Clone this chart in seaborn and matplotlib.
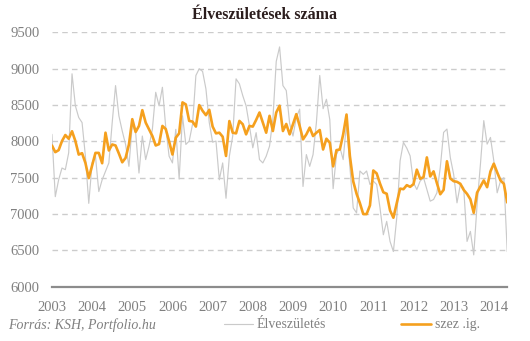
import matplotlib
matplotlib.use("Agg")
import matplotlib.pyplot as plt
import seaborn as sns
import pandas as pd
import numpy as np

# Monthly live births in Hungary, Jan 2003 - May 2014
births = [
    8097, 7240, 7472, 7634, 7611, 7843, 8930, 8490, 8329, 8259, 7796, 7148,
    7704, 7796, 7310, 7472, 7588, 7704, 8259, 8768, 8352, 8143, 7958, 7657,
    8236, 8120, 7565, 8074, 7750, 7935, 8166, 8676, 8490, 8745, 8190, 7796,
    7704, 8166, 7482, 8352, 7958, 8005, 8236, 8907, 9000, 8963, 8722, 8259,
    7990, 8005, 7472, 7704, 7218, 7796, 8074, 8861, 8792, 8630, 8490, 8213,
    7912, 8120, 7750, 7704, 7796, 7935, 8306, 9100, 9300, 8768, 8700, 8250,
    8074, 8329, 8444, 7380, 7819, 7657, 7819, 8259, 8907, 8450, 8580, 8300,
    7350, 7820, 7920, 7750, 8250, 7650, 7085, 7016, 7593, 7547, 7593, 7408,
    7454, 7408, 7085, 6716, 6900, 6624, 6485, 6947, 7732, 7986, 7907, 7801,
    7432, 7339, 7455, 7501, 7339, 7178, 7201, 7293, 7639, 8124, 8170, 7778,
    7547, 7155, 7408, 7362, 6624, 6762, 6439, 7131, 7686, 8286, 7963, 8055,
    7732, 7293, 7455, 7501, 6485,
]

# Seasonally adjusted series
seas_adj = [
    7944, 7852, 7880, 8005, 8088, 8037, 8140, 8005, 7819, 7838, 7704, 7495,
    7666, 7842, 7842, 7700, 8120, 7875, 7958, 7944, 7833, 7713, 7773, 7958,
    8306, 8130, 8213, 8430, 8259, 8166, 8074, 7944, 7963, 8213, 8170, 8000,
    7820, 8051, 8111, 8537, 8509, 8282, 8273, 8204, 8500, 8421, 8361, 8435,
    8204, 8111, 8120, 8065, 7800, 8280, 8120, 8111, 8282, 8236, 8097, 8213,
    8204, 8296, 8398, 8259, 8120, 8352, 8143, 8398, 8491, 8143, 8240, 8097,
    8236, 8375, 8213, 8028, 8097, 8190, 8074, 8120, 8157, 7889, 8037, 7982,
    7657, 7880, 7889, 8097, 8370, 7800, 7450, 7280, 7150, 7000, 7000, 7120,
    7600, 7560, 7420, 7300, 7280, 7050, 6950, 7150, 7350, 7343, 7398, 7375,
    7412, 7611, 7486, 7509, 7780, 7518, 7588, 7426, 7273, 7333, 7727, 7490,
    7453, 7444, 7417, 7333, 7278, 7204, 7018, 7296, 7380, 7463, 7370, 7588,
    7694, 7574, 7463, 7417, 7160,
]

years = ["2003", "2004", "2005", "2006", "2007", "2008", "2009",
         "2010", "2011", "2012", "2013", "2014"]
y_ticks = [6000, 6500, 7000, 7500, 8000, 8500, 9000, 9500]

df = pd.DataFrame({
    "month": np.arange(len(births)),
    "Élveszületés": births,
    "szez .ig.": seas_adj,
})

sns.set_style("white")
plt.rcParams["font.family"] = ["Liberation Serif", "DejaVu Serif"]

TXT = "#808080"
GRAY_LINE = "#cacaca"
ORANGE = "#f5a01e"

fig = plt.figure(figsize=(5.30, 3.41), dpi=100)
ax = fig.add_axes([0.098, 0.159, 0.859, 0.746])

sns.lineplot(data=df, x="month", y="Élveszületés", ax=ax,
             color=GRAY_LINE, linewidth=0.85, label="Élveszületés")
sns.lineplot(data=df, x="month", y="szez .ig.", ax=ax,
             color=ORANGE, linewidth=1.9, label="szez .ig.")

ax.set_xlim(0, len(births) - 1)
ax.set_ylim(6000, 9500)
ax.set_xlabel("")
ax.set_ylabel("")

ax.set_yticks(y_ticks)
ax.set_yticklabels([str(v) for v in y_ticks])
ax.set_xticks(np.arange(len(years)) * 12)
ax.set_xticklabels(years)
ax.tick_params(axis="both", length=0, colors=TXT, labelsize=10.5)
ax.tick_params(axis="x", pad=10)
ax.tick_params(axis="y", pad=9)

for v in y_ticks[1:]:
    ax.axhline(v, color="#cccccc", linewidth=1.0, linestyle=(0, (4, 3)), zorder=0)

for side in ["top", "right", "left"]:
    ax.spines[side].set_visible(False)
ax.spines["bottom"].set_color("#8c8c8c")
ax.spines["bottom"].set_linewidth(1.6)

fig.text(0.5, 0.955, "Élveszületések száma", ha="center", va="center",
         fontsize=11.5, fontweight="bold", color="#2b1d1d")
fig.text(0.015, 0.047, "Forrás: KSH, Portfolio.hu", ha="left", va="center",
         fontsize=10, style="italic", color=TXT)

handles, labels = ax.get_legend_handles_labels()
ax.get_legend().remove()
fig.legend(handles, labels, loc="center left", bbox_to_anchor=(0.422, 0.047),
           ncol=2, frameon=False, fontsize=10, labelcolor=TXT,
           handlelength=2.1, handletextpad=0.3, columnspacing=5.4,
           borderpad=0, borderaxespad=0)

fig.savefig("out.png", dpi=100)
